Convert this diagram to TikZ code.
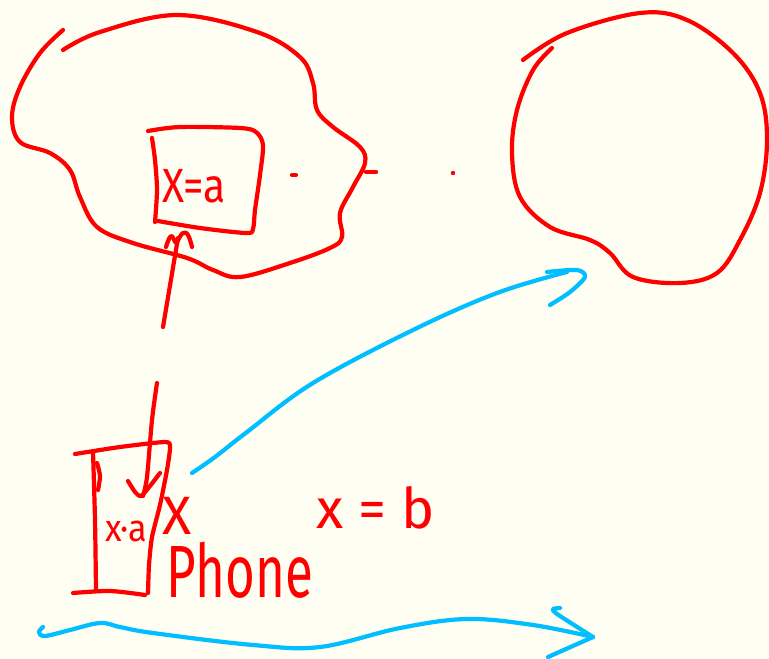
\documentclass[tikz,border=0pt]{standalone}
\usepackage{fontspec}
\setmainfont{Fira Sans}
\usepackage{tikz}
\usetikzlibrary{positioning}
\definecolor{paper}{RGB}{254,254,242}
\definecolor{inkred}{RGB}{255,0,0}
\definecolor{inkblue}{RGB}{0,190,255}
\tikzset{
  redpen/.style={draw=inkred, line width=4.2pt, line cap=round, line join=round},
  bluepen/.style={draw=inkblue, line width=4.2pt, line cap=round, line join=round},
  note/.style={text=inkred, inner sep=0pt}
}

\begin{document}
\begin{tikzpicture}[x=1pt, y=-1pt]
  \fill[paper] (0,0) rectangle (769,659);
  \useasboundingbox (0,0) rectangle (769,659);

  % left cloud
  \draw[redpen] plot[smooth, tension=0.6] coordinates {(63,50) (100,32) (177,15) (257,32)
    (300,57) (313,83) (317,110) (333,127) (360,147) (365,163) (353,187) (340,213)
    (342,237) (330,248) (290,263) (240,277) (213,270) (187,258) (133,243) (97,227)
    (80,197) (70,170) (50,153) (20,142) (12,117) (20,87) (40,53) (63,30)};
  \draw[redpen] (366,172) -- (376,172);
  \draw[redpen] (292,175) -- (296,175);
  \fill[inkred] (453,173) circle (2.2pt);

  % box inside the cloud
  \draw[redpen] plot[smooth, tension=0.5] coordinates {(148,131) (180,127) (240,128)
    (256,132) (263,145) (260,175) (255,210) (253,229) (246,233) (200,228) (158,221)};
  \draw[redpen] plot[smooth] coordinates {(152,138) (155,160) (157,190) (155,222)};
  \node[note, font=\fontsize{48}{48}\selectfont, xscale=0.85] (xa) at (194,186) {X=a};

  % line down to the phone
  \draw[redpen] plot[smooth, tension=0.7] coordinates {(166,247) (171,236) (176,243)
    (178,240) (183,233) (188,235) (192,247)};
  \draw[redpen] (178,238) -- (163,327);
  \draw[redpen] plot[smooth] coordinates {(157,383) (152,420) (147,477) (143,496)};
  \draw[redpen] plot[smooth, tension=0.4] coordinates {(128,481) (135,492) (141,496)
    (150,486) (160,473)};

  % phone
  \draw[redpen] plot[smooth, tension=0.4] coordinates {(75,454) (120,447) (165,442)
    (170,447) (167,470) (160,505) (152,537) (149,565) (148,593)};
  \draw[redpen] plot[smooth] coordinates {(73,593) (110,591) (145,595)};
  \draw[redpen] plot[smooth] coordinates {(93,452) (95,520) (96,590)};
  \draw[redpen] plot[smooth] coordinates {(97,463) (100,476) (98,490)};
  \node[note, font=\fontsize{38}{38}\selectfont, xscale=0.9] (xdota) at (126,531) {x·a};
  \node[note, font=\fontsize{54}{54}\selectfont] (cross) at (177,516) {X};
  \node[note, font=\fontsize{74}{74}\selectfont, xscale=0.69] (phone) at (240,570) {Phone};
  \node[note, font=\fontsize{56}{56}\selectfont] (xb) at (376,508) {x = b};

  % right cloud
  \draw[redpen] plot[smooth, tension=0.6] coordinates {(523,60) (567,33) (640,13)
    (687,20) (733,53) (760,93) (767,140) (760,193) (740,240) (717,273) (680,283)
    (633,277) (610,253) (590,240) (550,227) (520,197) (512,153) (517,110) (533,70)
    (552,48)};

  % blue arrows
  \draw[bluepen] plot[smooth, tension=0.6] coordinates {(192,473) (215,457) (247,432)
    (313,383) (413,330) (497,293) (567,272)};
  \draw[bluepen] plot[smooth, tension=0.5] coordinates {(547,272) (577,270) (585,277)
    (570,292) (550,305)};
  \draw[bluepen] plot[smooth, tension=0.6] coordinates {(43,627) (39,632) (45,636)
    (70,630) (100,623) (120,627) (153,633) (253,645) (320,647) (400,628) (467,619)
    (533,625) (593,637)};
  \draw[bluepen] plot[smooth, tension=0.4] coordinates {(560,608) (553,609) (557,614)
    (593,637)};
  \draw[bluepen] (593,637) -- (548,657);
\end{tikzpicture}
\end{document}
